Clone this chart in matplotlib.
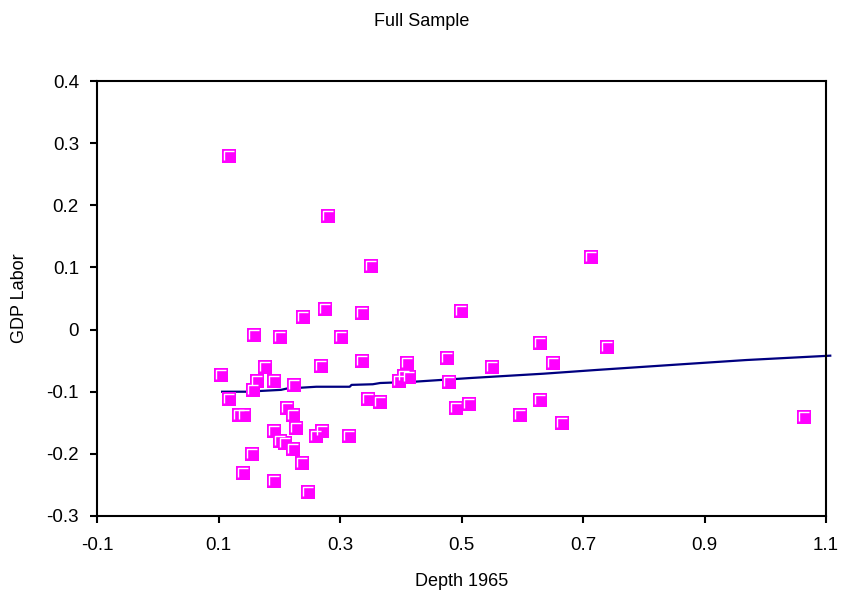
import numpy as np
import matplotlib
matplotlib.use("Agg")
import matplotlib.pyplot as plt
from matplotlib.path import Path

plt.rcParams["font.family"] = ["Liberation Sans", "DejaVu Sans"]

# ── scatter data ─────────────────────────────────────────────────────────────
depth_1965 = [0.117, 0.280, 0.351, 0.713, 0.275, 0.239, 0.336, 0.499, 0.158, 0.202,
              0.301, 0.630, 0.739, 0.476, 0.336, 0.410, 0.650, 0.268, 0.176, 0.551,
              0.104, 0.414, 0.405, 0.397, 0.163, 0.191, 0.479, 0.225, 0.156, 0.117,
              0.346, 0.366, 0.512, 0.630, 0.491, 0.212, 0.222, 0.133, 0.142, 0.597,
              1.063, 0.665, 0.192, 0.228, 0.271, 0.261, 0.314, 0.201, 0.209, 0.222,
              0.155, 0.237, 0.141, 0.192, 0.247]
gdp_labor = [0.280, 0.182, 0.103, 0.117, 0.033, 0.020, 0.027, 0.030, -0.009, -0.012,
             -0.012, -0.021, -0.028, -0.045, -0.050, -0.053, -0.053, -0.059, -0.060, -0.060,
             -0.073, -0.077, -0.074, -0.082, -0.082, -0.082, -0.085, -0.089, -0.098, -0.111,
             -0.111, -0.116, -0.120, -0.114, -0.127, -0.127, -0.138, -0.137, -0.137, -0.137,
             -0.140, -0.150, -0.163, -0.159, -0.163, -0.172, -0.171, -0.179, -0.182, -0.192,
             -0.200, -0.214, -0.230, -0.243, -0.262]

# ── fitted (smoothed) line ───────────────────────────────────────────────────
fit_x = [0.106, 0.146, 0.203, 0.212, 0.261, 0.316, 0.319, 0.354, 0.366,
         0.421, 0.514, 0.635, 0.722, 0.860, 0.969, 1.107]
fit_y = [-0.100, -0.100, -0.097, -0.095, -0.092, -0.092, -0.089, -0.088, -0.086,
         -0.084, -0.078, -0.071, -0.065, -0.056, -0.049, -0.042]

# white "Γ" highlight drawn over each square, Excel-style
gamma = Path([(-0.71, -0.53), (-0.71, 0.71), (0.71, 0.71)],
             [Path.MOVETO, Path.LINETO, Path.LINETO])

fig = plt.figure(figsize=(8.44, 5.97), dpi=100)
ax = fig.add_axes([97 / 844, 1 - 516 / 597, 729 / 844, 435 / 597])

ax.plot(fit_x, fit_y, color="#000080", linewidth=1.6, zorder=2, clip_on=False)
ax.plot(depth_1965, gdp_labor, linestyle="none", marker="s", markersize=10,
        markerfacecolor="#FF00FF", markeredgewidth=0, zorder=3)
ax.plot(depth_1965, gdp_labor, linestyle="none", marker=gamma, markersize=7.1,
        markerfacecolor="none", markeredgecolor="white", markeredgewidth=1.0, zorder=4)

ax.set_xlim(-0.1, 1.1)
ax.set_ylim(-0.3, 0.4)
ax.set_xticks(np.arange(-0.1, 1.11, 0.2))
ax.set_yticks(np.arange(-0.3, 0.41, 0.1))
ax.set_xticklabels(["-0.1", "0.1", "0.3", "0.5", "0.7", "0.9", "1.1"])
ax.set_yticklabels(["-0.3", "-0.2", "-0.1", "0", "0.1", "0.2", "0.3", "0.4"])
ax.tick_params(direction="out", length=5, width=1.5, labelsize=13.5)
ax.tick_params(axis="x", pad=10)
ax.tick_params(axis="y", pad=8)
for s in ax.spines.values():
    s.set_linewidth(1.5)

fig.text(0.5, 1 - 21 / 597, "Full Sample", ha="center", va="center", fontsize=13)
fig.text((97 + 826) / 2 / 844, 1 - 581 / 597, "Depth 1965", ha="center", va="center", fontsize=13)
fig.text(20 / 844, 1 - 298 / 597, "GDP Labor", ha="center", va="center",
         rotation=90, fontsize=13)

fig.savefig("out.png", dpi=100)
